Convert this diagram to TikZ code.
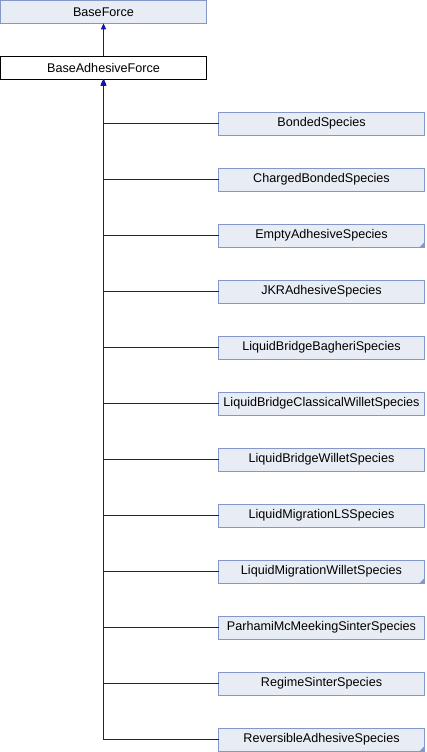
\documentclass[tikz,border=0pt]{standalone}
\usepackage{fontspec}
\setmainfont{Liberation Sans}
\usepackage{tikz}
\usetikzlibrary{arrows.meta}
\definecolor{clsfill}{RGB}{232,236,245}
\definecolor{clsborder}{RGB}{132,151,201}
\definecolor{edgeblue}{RGB}{20,20,170}
\tikzstyle{cls}=[rectangle,draw=clsborder,fill=clsfill,line width=1pt,minimum width=206pt,minimum height=23pt,inner sep=0pt,outer sep=0pt,font=\fontsize{12.6}{14}\selectfont]
\tikzstyle{clsh}=[cls,draw=black,fill=white]
\tikzstyle{arr}=[-{Triangle[length=6pt,width=5pt]},draw=edgeblue,line width=1.1pt]
\tikzstyle{fold}=[fill=clsborder]

\begin{document}
\begin{tikzpicture}[x=1pt,y=-1pt]
  \useasboundingbox (0,0) rectangle (426,752);
  %Nodes
  \node[cls]   (BF)   at (103.5,11.8)  {BaseForce};
  \node[clsh]  (BAF)  at (103.5,67.8)  {BaseAdhesiveForce};
  \node[cls]   (BS)   at (321.5,123.5) {BondedSpecies};
  \node[cls]   (CBS)  at (321.5,179.5) {ChargedBondedSpecies};
  \node[cls]   (EAS)  at (321.5,235.5) {EmptyAdhesiveSpecies};
  \node[cls]   (JKR)  at (321.5,291.5) {JKRAdhesiveSpecies};
  \node[cls]   (LBB)  at (321.5,347.5) {LiquidBridgeBagheriSpecies};
  \node[cls]   (LBCW) at (321.5,403.5) {LiquidBridgeClassicalWilletSpecies};
  \node[cls]   (LBW)  at (321.5,459.5) {LiquidBridgeWilletSpecies};
  \node[cls]   (LMLS) at (321.5,515.5) {LiquidMigrationLSSpecies};
  \node[cls]   (LMW)  at (321.5,571.5) {LiquidMigrationWilletSpecies};
  \node[cls]   (PMS)  at (321.5,627.5) {ParhamiMcMeekingSinterSpecies};
  \node[cls]   (RSS)  at (321.5,683.5) {RegimeSinterSpecies};
  \node[cls]   (RAS)  at (321.5,739.5) {ReversibleAdhesiveSpecies};
  %Folded corners
  \fill[fold] ([xshift=-5pt]EAS.south east) -- (EAS.south east) -- ([yshift=5pt]EAS.south east) -- cycle;
  \fill[fold] ([xshift=-5pt]LMW.south east) -- (LMW.south east) -- ([yshift=5pt]LMW.south east) -- cycle;
  \fill[fold] ([xshift=-5pt]RAS.south east) -- (RAS.south east) -- ([yshift=5pt]RAS.south east) -- cycle;
  %Lines
  \draw[arr] (BAF) -- (BF);
  \draw[arr] (BS.west) -| (BAF.south);
  \draw[arr] (CBS.west) -| (BAF.south);
  \draw[arr] (EAS.west) -| (BAF.south);
  \draw[arr] (JKR.west) -| (BAF.south);
  \draw[arr] (LBB.west) -| (BAF.south);
  \draw[arr] (LBCW.west) -| (BAF.south);
  \draw[arr] (LBW.west) -| (BAF.south);
  \draw[arr] (LMLS.west) -| (BAF.south);
  \draw[arr] (LMW.west) -| (BAF.south);
  \draw[arr] (PMS.west) -| (BAF.south);
  \draw[arr] (RSS.west) -| (BAF.south);
  \draw[arr] (RAS.west) -| (BAF.south);
\end{tikzpicture}
\end{document}
